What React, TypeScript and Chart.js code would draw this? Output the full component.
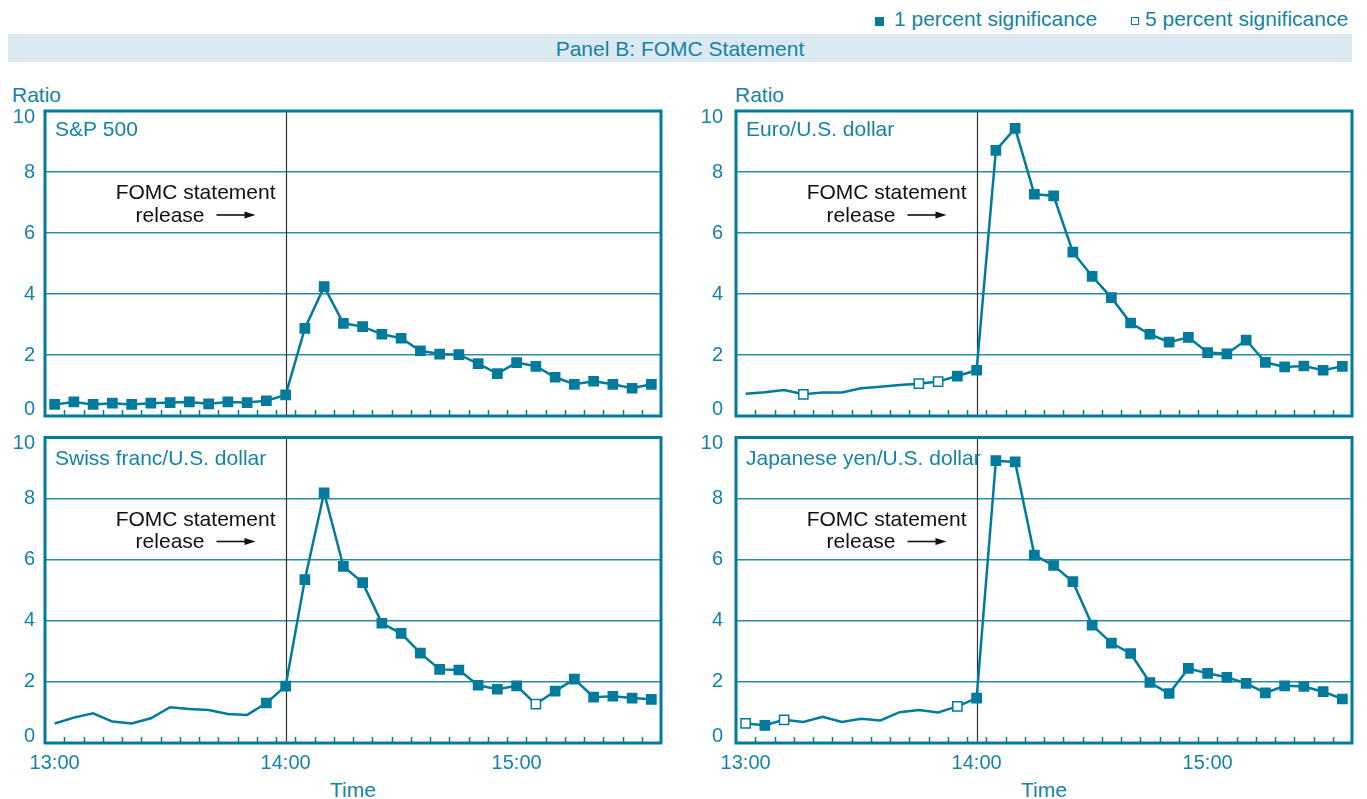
import React, { useEffect, useRef } from 'react';
import { Chart, registerables } from 'chart.js';

Chart.register(...registerables);

// ---------- data ----------
const times = [
  '13:00', '13:05', '13:10', '13:15', '13:20', '13:25', '13:30', '13:35',
  '13:40', '13:45', '13:50', '13:55', '14:00', '14:05', '14:10', '14:15',
  '14:20', '14:25', '14:30', '14:35', '14:40', '14:45', '14:50', '14:55',
  '15:00', '15:05', '15:10', '15:15', '15:20', '15:25', '15:30', '15:35',
];
const xTickLabels = ['13:00', '14:00', '15:00'];
const yTicks = [0, 2, 4, 6, 8, 10];
const releaseTime = '14:00';

// f = 1 percent significance, o = 5 percent significance, - = not significant
const spValues = [0.38, 0.46, 0.38, 0.42, 0.38, 0.42, 0.44, 0.46, 0.4, 0.46, 0.44, 0.5, 0.69, 2.87, 4.24, 3.04,
  2.93, 2.68, 2.55, 2.14, 2.03, 2.01, 1.72, 1.39, 1.75, 1.63, 1.27, 1.04, 1.14, 1.04, 0.91, 1.04];
const spMarks = ['f', 'f', 'f', 'f', 'f', 'f', 'f', 'f', 'f', 'f', 'f', 'f', 'f', 'f', 'f', 'f',
  'f', 'f', 'f', 'f', 'f', 'f', 'f', 'f', 'f', 'f', 'f', 'f', 'f', 'f', 'f', 'f'];

const euroValues = [0.73, 0.78, 0.85, 0.71, 0.77, 0.77, 0.91, 0.96, 1.02, 1.06, 1.13, 1.31, 1.5, 8.71, 9.43, 7.27,
  7.22, 5.37, 4.58, 3.88, 3.05, 2.68, 2.42, 2.58, 2.08, 2.04, 2.49, 1.76, 1.61, 1.64, 1.5, 1.63];
const euroMarks = ['-', '-', '-', 'o', '-', '-', '-', '-', '-', 'o', 'o', 'f', 'f', 'f', 'f', 'f',
  'f', 'f', 'f', 'f', 'f', 'f', 'f', 'f', 'f', 'f', 'f', 'f', 'f', 'f', 'f', 'f'];

const swissValues = [0.64, 0.83, 0.97, 0.7, 0.64, 0.81, 1.17, 1.11, 1.08, 0.95, 0.92, 1.31, 1.86, 5.35, 8.19, 5.78,
  5.25, 3.92, 3.59, 2.94, 2.41, 2.39, 1.89, 1.76, 1.87, 1.27, 1.7, 2.09, 1.5, 1.53, 1.47, 1.43];
const swissMarks = ['-', '-', '-', '-', '-', '-', '-', '-', '-', '-', '-', 'f', 'f', 'f', 'f', 'f',
  'f', 'f', 'f', 'f', 'f', 'f', 'f', 'f', 'f', 'o', 'f', 'f', 'f', 'f', 'f', 'f'];

const yenValues = [0.64, 0.58, 0.76, 0.69, 0.86, 0.69, 0.79, 0.74, 1.01, 1.08, 1.0, 1.2, 1.47, 9.24, 9.2, 6.15,
  5.81, 5.28, 3.86, 3.27, 2.93, 1.98, 1.62, 2.44, 2.28, 2.15, 1.95, 1.64, 1.87, 1.85, 1.68, 1.44];
const yenMarks = ['o', 'f', 'o', '-', '-', '-', '-', '-', '-', '-', '-', 'o', 'f', 'f', 'f', 'f',
  'f', 'f', 'f', 'f', 'f', 'f', 'f', 'f', 'f', 'f', 'f', 'f', 'f', 'f', 'f', 'f'];

// ---------- styles ----------
const TEAL = '#007b9d';
const GRID = '#2b8bab';
const TEXT = '#1683a4';
const BAND = '#dbeaf2';
const FONT = '"Liberation Sans", Arial, Helvetica, sans-serif';

Chart.defaults.font.family = FONT;

type PanelCfg = {
  key: string; label: string; values: number[]; marks: string[];
  x: number; y: number; w: number; h: number;
  left: number; top: number; right: number; bottom: number;
  showX: boolean; yPad: number; labelBase: number;
};

const panels: PanelCfg[] = [
  { key: 'sp', label: 'S&P 500', values: spValues, marks: spMarks, x: 0, y: 100, w: 680, h: 330, left: 45, top: 11, right: 19, bottom: 14, showX: false, yPad: 10, labelBase: 25 },
  { key: 'eur', label: 'Euro/U.S. dollar', values: euroValues, marks: euroMarks, x: 680, y: 100, w: 687, h: 330, left: 56, top: 11, right: 15, bottom: 14, showX: false, yPad: 13, labelBase: 25 },
  { key: 'chf', label: 'Swiss franc/U.S. dollar', values: swissValues, marks: swissMarks, x: 0, y: 425, w: 680, h: 374, left: 45, top: 12.5, right: 19, bottom: 56, showX: true, yPad: 10, labelBase: 27 },
  { key: 'jpy', label: 'Japanese yen/U.S. dollar', values: yenValues, marks: yenMarks, x: 680, y: 425, w: 687, h: 374, left: 56, top: 12.5, right: 15, bottom: 56, showX: true, yPad: 13, labelBase: 27 },
];

function markAt(marks: string[], i: number) {
  return marks[i] || '-';
}

function overlayPlugin(p: PanelCfg) {
  return {
    id: 'overlay_' + p.key,
    beforeDatasetsDraw(chart: any) {
      const { ctx, chartArea: a, scales } = chart;
      const x = scales.x;
      const y = scales.y;
      ctx.save();
      // tick marks between points, inside the frame
      ctx.strokeStyle = TEAL;
      ctx.lineWidth = 1.5;
      for (let i = 0; i < times.length - 1; i++) {
        const px = Math.round((x.getPixelForValue(i) + x.getPixelForValue(i + 1)) / 2) + 0.5;
        ctx.beginPath();
        ctx.moveTo(px, a.bottom);
        ctx.lineTo(px, a.bottom - 6);
        ctx.stroke();
      }
      // release vertical line
      const rx = Math.round(x.getPixelForValue(times.indexOf(releaseTime))) + 0.5;
      ctx.strokeStyle = '#333';
      ctx.lineWidth = 1.2;
      ctx.beginPath();
      ctx.moveTo(rx, a.top);
      ctx.lineTo(rx, a.bottom);
      ctx.stroke();
      // frame
      ctx.strokeStyle = TEAL;
      ctx.lineWidth = 3;
      ctx.strokeRect(a.left, a.top, a.right - a.left, a.bottom - a.top);
      // y labels
      ctx.fillStyle = TEXT;
      ctx.font = '20px ' + FONT;
      ctx.textAlign = 'right';
      ctx.textBaseline = 'middle';
      yTicks.forEach((v) => {
        let py = y.getPixelForValue(v);
        if (v === 0) py -= 7;
        if (v === 10) py += 6;
        ctx.fillText(String(v), a.left - p.yPad, py);
      });
      // panel label
      ctx.font = '21px ' + FONT;
      ctx.textAlign = 'left';
      ctx.textBaseline = 'alphabetic';
      ctx.fillText(p.label, a.left + 10, a.top + p.labelBase);
      // annotation
      ctx.fillStyle = '#111';
      ctx.textAlign = 'right';
      ctx.fillText('FOMC statement', rx - 11, a.top + 88);
      ctx.fillText('release', rx - 82, a.top + 110.5);
      const ay = a.top + 104;
      ctx.strokeStyle = '#111';
      ctx.lineWidth = 1.6;
      ctx.beginPath();
      ctx.moveTo(rx - 70, ay);
      ctx.lineTo(rx - 40, ay);
      ctx.stroke();
      ctx.beginPath();
      ctx.moveTo(rx - 31, ay);
      ctx.lineTo(rx - 42, ay - 3.5);
      ctx.lineTo(rx - 42, ay + 3.5);
      ctx.closePath();
      ctx.fill();
      ctx.restore();
    },
  };
}

function makeConfig(p: PanelCfg): any {
  return {
    type: 'line',
    data: {
      labels: times,
      datasets: [
        {
          data: p.values,
          borderColor: TEAL,
          borderWidth: 2.5,
          tension: 0,
          pointStyle: 'rect',
          pointRadius: p.values.map((_, i) => (markAt(p.marks, i) === '-' ? 0 : 6.5)),
          pointBackgroundColor: p.values.map((_, i) => (markAt(p.marks, i) === 'o' ? '#ffffff' : TEAL)),
          pointBorderColor: TEAL,
          pointBorderWidth: 1.5,
        },
      ],
    },
    options: {
      animation: false,
      responsive: false,
      maintainAspectRatio: false,
      events: [],
      layout: { autoPadding: false, padding: { top: p.top, right: p.right, left: 0, bottom: 0 } },
      plugins: { legend: { display: false }, tooltip: { enabled: false } },
      scales: {
        x: {
          type: 'category',
          offset: true,
          grid: { display: false },
          border: { display: false },
          ticks: {
            display: p.showX,
            autoSkip: false,
            maxRotation: 0,
            minRotation: 0,
            color: TEXT,
            padding: 0,
            font: { size: 20, family: FONT },
            callback: (_v: any, idx: number) => (xTickLabels.includes(times[idx]) ? times[idx] : ''),
          },
          afterFit: (s: any) => { s.height = p.bottom; },
        },
        y: {
          min: 0,
          max: 10,
          ticks: { display: false, stepSize: 2 },
          grid: { color: GRID, lineWidth: 1.5, drawTicks: false },
          border: { display: false },
          afterFit: (s: any) => { s.width = p.left; },
        },
      },
    },
    plugins: [overlayPlugin(p)],
  };
}

function Panel({ p }: { p: PanelCfg }) {
  const ref = useRef<HTMLCanvasElement | null>(null);
  useEffect(() => {
    const chart = new Chart(ref.current as HTMLCanvasElement, makeConfig(p));
    return () => chart.destroy();
  }, []);
  return (
    <canvas
      ref={ref}
      width={p.w}
      height={p.h}
      style={{ position: 'absolute', left: p.x, top: p.y, width: p.w, height: p.h }}
    />
  );
}

const txt = (extra: any): any => ({
  position: 'absolute',
  fontFamily: FONT,
  fontSize: 21,
  lineHeight: '21px',
  color: TEXT,
  whiteSpace: 'nowrap',
  ...extra,
});

export default function App() {
  return (
    <div style={{ position: 'absolute', left: 0, top: 0, width: 1367, height: 799, background: '#fff', overflow: 'hidden' }}>
      {/* legend */}
      <div style={{ position: 'absolute', left: 875, top: 17, width: 9, height: 9, background: TEAL }} />
      <div style={txt({ left: 894, top: 8 })}>1 percent significance</div>
      <div style={{ position: 'absolute', left: 1131, top: 17, width: 6, height: 6, border: `1.5px solid ${TEAL}`, background: '#fff' }} />
      <div style={txt({ left: 1145, top: 8 })}>5 percent significance</div>
      {/* band */}
      <div style={{ position: 'absolute', left: 8, top: 34, width: 1344, height: 28, background: BAND }} />
      <div style={txt({ left: 8, width: 1344, top: 38, textAlign: 'center' })}>Panel B: FOMC Statement</div>
      {/* axis titles */}
      <div style={txt({ left: 12, top: 84 })}>Ratio</div>
      <div style={txt({ left: 735, top: 84 })}>Ratio</div>
      <div style={txt({ left: 253, width: 200, top: 779, textAlign: 'center' })}>Time</div>
      <div style={txt({ left: 944, width: 200, top: 779, textAlign: 'center' })}>Time</div>
      {panels.map((p) => (
        <Panel key={p.key} p={p} />
      ))}
    </div>
  );
}
